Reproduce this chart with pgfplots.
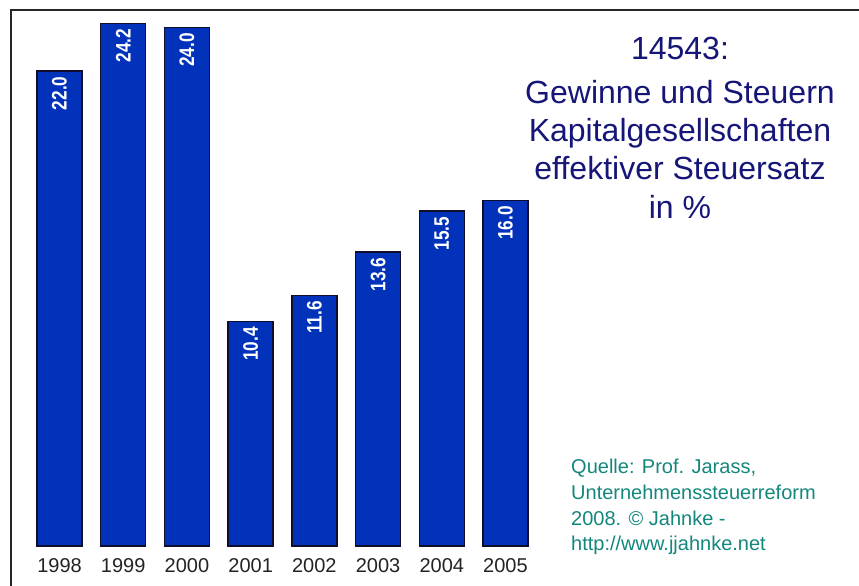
\documentclass[border=0pt]{standalone}
\usepackage{fontspec}
\setmainfont{Liberation Sans}
\usepackage{graphicx}
\usepackage{pgfplots}
\pgfplotsset{compat=1.18}
\definecolor{barblue}{RGB}{2,50,185}
\definecolor{bardark}{RGB}{15,15,45}
\definecolor{titlenavy}{RGB}{22,22,120}
\definecolor{srcteal}{RGB}{20,135,125}
\definecolor{ticktext}{RGB}{35,35,35}
\begin{document}
\begin{tikzpicture}[x=1pt,y=1pt]
\path[use as bounding box, fill=white] (0,0) rectangle (859,586);
\draw[line width=2pt, black!85] (11,0) -- (11,576) -- (859,576);
\begin{axis}[
  at={(27.65pt,40pt)}, anchor=south west,
  scale only axis, width=509.7pt, height=540pt,
  xmin=-0.5, xmax=7.5, ymin=0, ymax=25,
  axis line style={draw=none},
  ytick=\empty,
  xtick={0,1,2,3,4,5,6,7},
  xticklabels={1998,1999,2000,2001,2002,2003,2004,2005},
  major tick length=0pt,
  xticklabel style={anchor=base, yshift=-27pt, text=ticktext, font=\fontsize{20}{20}\selectfont},
  /pgf/number format/assume math mode=true,
  ybar, bar width=45pt,
  clip=false,
  nodes near coords={\scalebox{0.82}[1]{\pgfmathprintnumber[fixed,fixed zerofill,precision=1]{\pgfplotspointmeta}}},
  nodes near coords style={rotate=90, anchor=east, inner xsep=5pt, inner ysep=0pt, text=white, font=\bfseries\fontsize{21}{21}\selectfont},
]
\addplot[fill=barblue, draw=bardark, line width=1.5pt] coordinates {
  (0,22.0) (1,24.2) (2,24.0) (3,10.4) (4,11.6) (5,13.6) (6,15.5) (7,16.0)
};
\end{axis}
\begin{scope}[every node/.style={text=titlenavy, font=\fontsize{32}{32}\selectfont, anchor=base, inner sep=0pt}]
\node at (680,526.5) {14543:};
\node at (680,482.5) {Gewinne und Steuern};
\node at (680,444.5) {Kapitalgesellschaften};
\node at (680,406.5) {effektiver Steuersatz};
\node at (680,367.5) {in \%};
\end{scope}
\begin{scope}[every node/.style={text=srcteal, font=\fontsize{20}{20}\selectfont, anchor=base west, inner sep=0pt}]
\node at (571,112) {Quelle: Prof. Jarass,};
\node at (571,86) {Unternehmenssteuerreform};
\node at (571,60) {2008. © Jahnke -};
\node at (571,35) {http://www.jjahnke.net};
\end{scope}
\end{tikzpicture}
\end{document}
